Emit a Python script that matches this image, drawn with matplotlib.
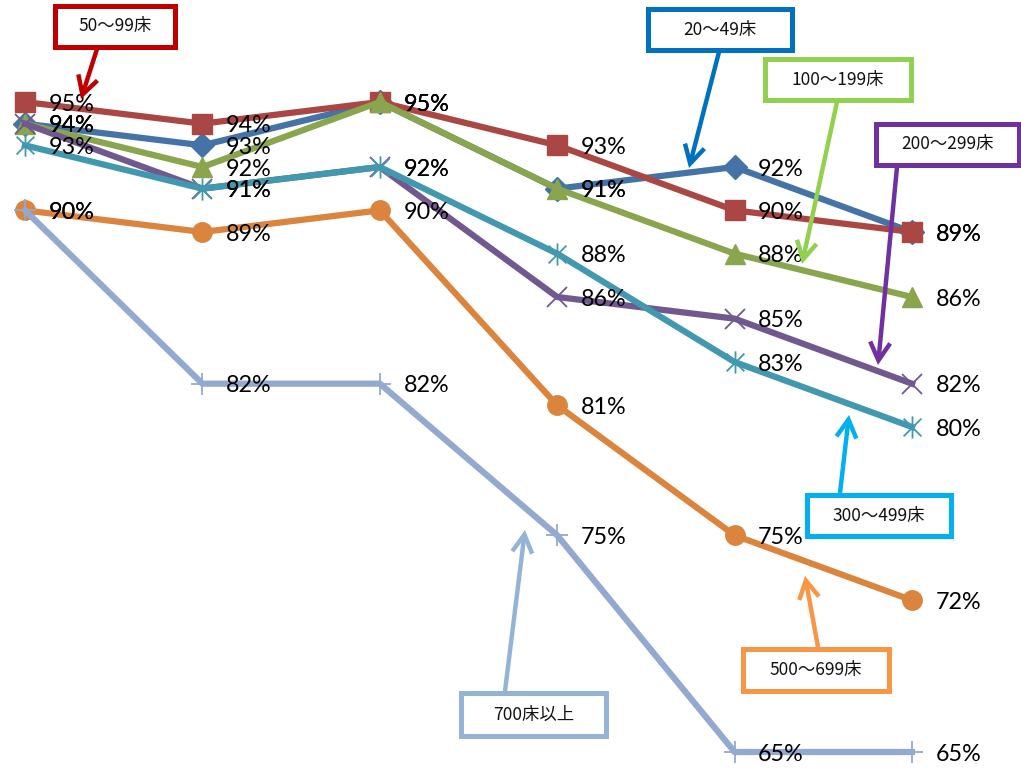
import matplotlib
matplotlib.use("Agg")
import matplotlib.pyplot as plt
from matplotlib.path import Path
from matplotlib.patches import Rectangle

# ---- data ----
periods = [0, 1, 2, 3, 4, 5]
series_names = ["20～49床", "50～99床", "100～199床", "200～299床", "300～499床", "500～699床", "700床以上"]
v_20_49 = [94, 93, 95, 91, 92, 89]
v_50_99 = [95, 94, 95, 93, 90, 89]
v_100_199 = [94, 92, 95, 91, 88, 86]
v_200_299 = [94, 91, 92, 86, 85, 82]
v_300_499 = [93, 91, 92, 88, 83, 80]
v_500_699 = [90, 89, 90, 81, 75, 72]
v_700 = [90, 82, 82, 75, 65, 65]
values = [v_20_49, v_50_99, v_100_199, v_200_299, v_300_499, v_500_699, v_700]

W, H = 1021, 769
fig = plt.figure(figsize=(W / 100, H / 100), dpi=100)
ax = fig.add_axes([0, 0, 1, 1])
ax.set_axis_off()

# pixel mapping: x index 0 -> 25px, 5 -> 912px ; y 95 -> 102px, 65 -> 752px (from top)
xpp = (912 - 25) / 5.0
ypp = (752 - 102) / 30.0
ax.set_xlim(0 - 25 / xpp, 5 + (W - 912) / xpp)
ax.set_ylim(65 - (H - 752) / ypp, 95 + 102 / ypp)

star = Path([(-1, -1), (1, 1), (-1, 1), (1, -1), (0, -1.25), (0, 1.25)],
            [Path.MOVETO, Path.LINETO, Path.MOVETO, Path.LINETO, Path.MOVETO, Path.LINETO])

line_colors = ["#4572A7", "#AA4643", "#89A54E", "#71588F", "#4198AF", "#DB843D", "#93A9CF"]
markers = ["D", "s", "^", "x", star, "o", "+"]
msizes = [12, 14, 15, 15, 16, 14, 16]
mews = [1, 1, 1, 1.3, 1.3, 1, 1.3]

for vals, c, m, ms, mew in zip(values, line_colors, markers, msizes, mews):
    ax.plot(periods, vals, color=c, lw=4.5, marker=m, markersize=ms,
            markerfacecolor=c, markeredgecolor=c, markeredgewidth=mew,
            solid_joinstyle="round", zorder=3)
    for x, v in zip(periods, vals):
        ax.annotate(f"{v}%", (x, v), xytext=(17, -1.5), textcoords="offset points",
                    ha="left", va="center", fontsize=16.8, family="Lato",
                    color="black", zorder=5)

# ---- callout boxes ----
box_colors = ["#0070C0", "#C00000", "#92D050", "#7030A0", "#00B0F0", "#F79646", "#95B3D7"]
# (x0, y0, x1, y1) in image pixels from top-left
boxes = [(648, 9, 792, 50), (55, 6, 175, 47), (765, 59, 911, 100), (876, 124, 1019, 165),
         (807, 495, 951, 536), (743, 649, 889, 691), (461, 693, 606, 736)]
# arrow start / tip in image pixels
arrows = [((719, 52), (689, 168)), ((97, 49), (81, 99)), ((837, 102), (802, 264)),
          ((897, 167), (878, 365)), ((840, 493), (849, 415)), ((818, 647), (805, 576)),
          ((505, 691), (525, 530))]


def fp(x, y):
    return (x, H - y)


for name, col, (x0, y0, x1, y1), (a0, a1) in zip(series_names, box_colors, boxes, arrows):
    rect = Rectangle(fp(x0, y1), x1 - x0, y1 - y0, transform=None,
                     facecolor="white", edgecolor=col, lw=3.6, zorder=6)
    fig.patches.append(rect)
    fig.text((x0 + x1) / 2 / W, 1 - (y0 + y1) / 2 / H, name, ha="center", va="center",
             fontsize=12.5, family=["Noto Sans CJK JP", "DejaVu Sans"], color="#111111", zorder=7)
    ax.annotate("", xy=fp(*a1), xycoords="figure pixels", xytext=fp(*a0),
                textcoords="figure pixels",
                arrowprops=dict(arrowstyle="->,head_length=0.65,head_width=0.36",
                                mutation_scale=20, color=col, lw=3.2,
                                shrinkA=0, shrinkB=0, joinstyle="miter", capstyle="butt"),
                zorder=6)

fig.savefig("out.png", dpi=100)
